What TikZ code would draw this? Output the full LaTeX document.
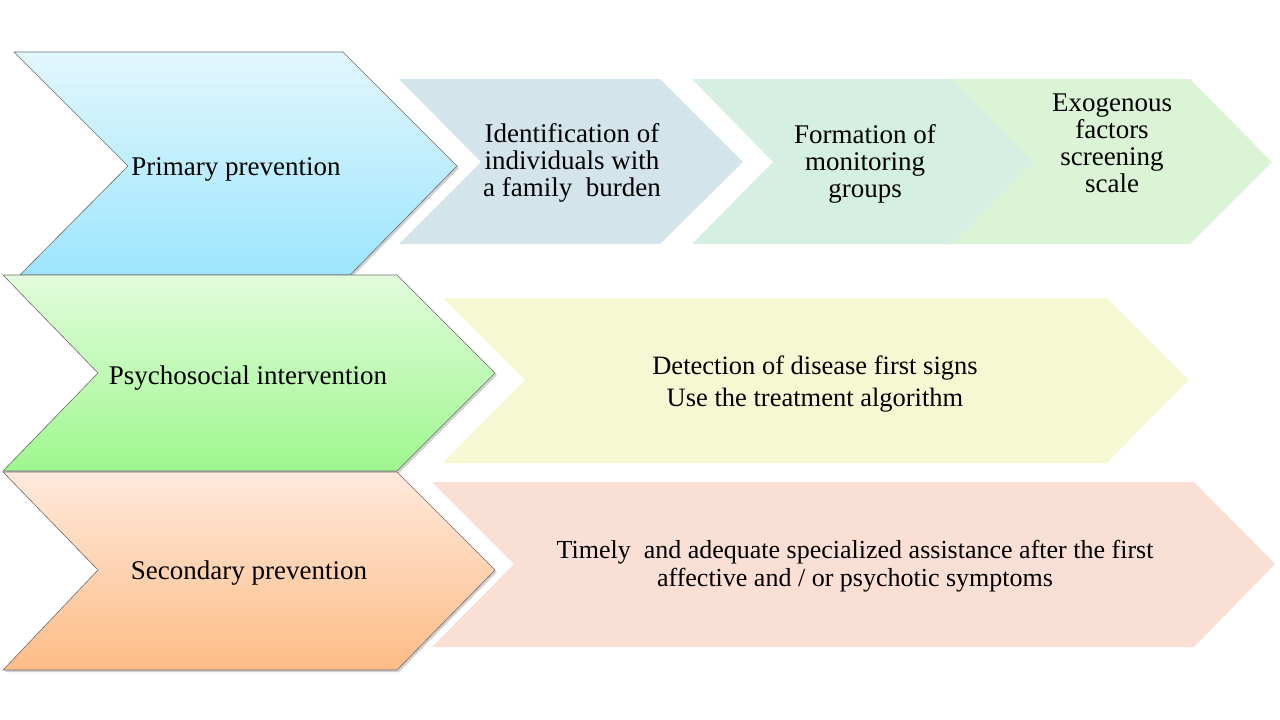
\documentclass[tikz,border=0pt]{standalone}
\usepackage{fontspec}
\setmainfont{Liberation Serif}
\begin{document}
\begin{tikzpicture}[x=1pt,y=-1pt,
  lbl/.style={align=center,font=\fontsize{27}{27}\selectfont,text=black,inner sep=0pt},
  bigedge/.style={draw=gray!85!black,line width=0.6pt,line join=miter},
  shadowfill/.style={fill=black,opacity=0.18}]
\useasboundingbox (0,0) rectangle (1280,720);
\definecolor{bluetop}{HTML}{E2F7FE}\definecolor{bluebot}{HTML}{9DE5FC}
\definecolor{greentop}{HTML}{E2FCDC}\definecolor{greenbot}{HTML}{9EF78E}
\definecolor{orangetop}{HTML}{FFE9DC}\definecolor{orangebot}{HTML}{FDBC86}
\definecolor{cA}{HTML}{D4E4EB}\definecolor{cB}{HTML}{D5EFE2}\definecolor{cC}{HTML}{DBF4D5}
\definecolor{cR2}{HTML}{F5F8D2}\definecolor{cR3}{HTML}{FADFD5}

% row 1 small chevrons
\fill[cC] (940,79) -- (1190,79) -- (1272,162) -- (1190,244) -- (940,244) -- (1020,162) -- cycle;
\fill[cB] (692,79) -- (952,79) -- (1033,162) -- (952,244) -- (692,244) -- (773,162) -- cycle;
\fill[cA] (399,79) -- (660,79) -- (743,162) -- (660,244) -- (399,244) -- (481,162) -- cycle;

% row 2 and 3 long chevrons
\fill[cR2] (443,298) -- (1107,298) -- (1189,380) -- (1107,463) -- (443,463) -- (525,380) -- cycle;
\fill[cR3] (432,482) -- (1194,482) -- (1275,564) -- (1194,647) -- (432,647) -- (514,564) -- cycle;

% big chevrons with shadows
\fill[shadowfill] (16,54) -- (345,54) -- (459,168) -- (352,277) -- (22,277) -- (130,168) -- cycle;
\shadedraw[bigedge,top color=bluetop,bottom color=bluebot]
  (14,52) -- (343,52) -- (457,166) -- (350,275) -- (20,275) -- (128,166) -- cycle;
\fill[shadowfill] (5,277) -- (399,277) -- (497,375) -- (399,473) -- (5,473) -- (100,375) -- cycle;
\shadedraw[bigedge,top color=greentop,bottom color=greenbot]
  (3,275) -- (397,275) -- (495,373) -- (397,471) -- (3,471) -- (98,373) -- cycle;
\fill[shadowfill] (5,474) -- (399,474) -- (497,572) -- (399,672) -- (5,672) -- (100,572) -- cycle;
\shadedraw[bigedge,top color=orangetop,bottom color=orangebot]
  (3,472) -- (397,472) -- (495,570) -- (397,670) -- (3,670) -- (98,570) -- cycle;

% labels
\node[lbl] (primary) at (236,169) {Primary prevention};
\node[lbl] (psycho) at (248,378) {Psychosocial intervention};
\node[lbl] (secondary) at (249,573) {Secondary prevention};
\node[lbl] (ident) at (572,163) {Identification of\\individuals with\\a family~ burden};
\node[lbl] (formation) at (865,163.5) {Formation of\\monitoring\\groups};
\node[lbl] (exo) at (1112,143) {Exogenous\\factors\\screening\\scale};
\node[lbl,font=\fontsize{26.5}{32}\selectfont] (detect) at (815,384) {Detection of disease first signs\\Use the treatment algorithm};
\node[lbl,font=\fontsize{26}{28}\selectfont] (timely) at (855,566) {Timely~ and adequate specialized assistance after the first\\affective and / or psychotic symptoms};
\end{tikzpicture}
\end{document}
